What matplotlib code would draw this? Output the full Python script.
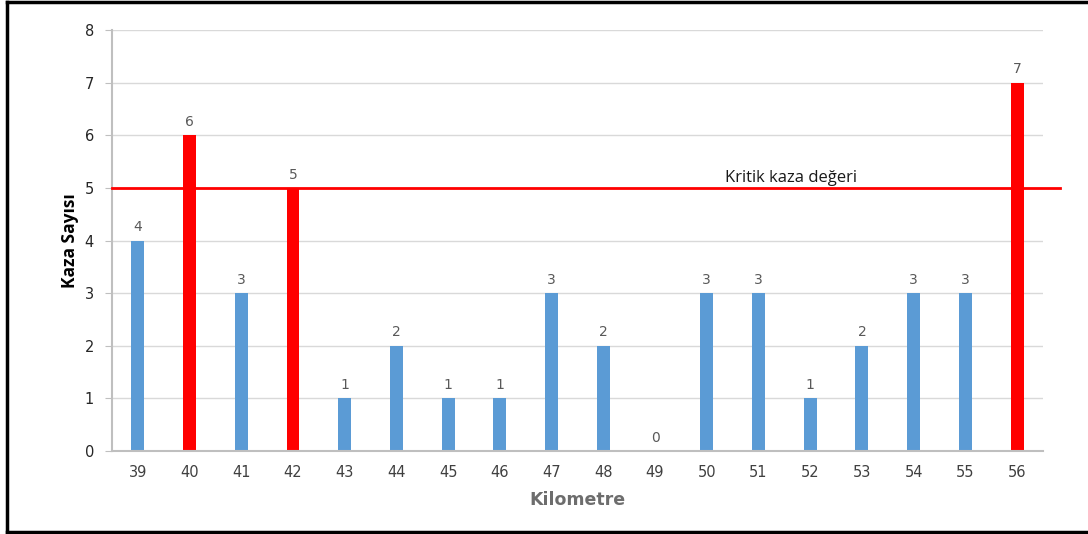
import matplotlib.pyplot as plt
from matplotlib.lines import Line2D

km = ['39', '40', '41', '42', '43', '44', '45', '46', '47', '48',
      '49', '50', '51', '52', '53', '54', '55', '56']
kaza = [4, 6, 3, 5, 1, 2, 1, 1, 3, 2, 0, 3, 3, 1, 2, 3, 3, 7]
kritik = 5

blue = '#5B9BD5'
red = '#FF0000'
colors = [red if v >= kritik else blue for v in kaza]

plt.rcParams['font.family'] = ['DejaVu Sans']

fig = plt.figure(figsize=(10.88, 5.34), dpi=100)
ax = fig.add_axes([0.1029, 0.1554, 0.8557, 0.7884])

x = range(len(km))
bars = ax.bar(x, kaza, width=0.25, color=colors, zorder=2)
for xi, v in zip(x, kaza):
    ax.text(xi, v + 0.12, str(v), ha='center', va='bottom', fontsize=10, color='#595959')

ax.set_xlim(-0.5, len(km) - 0.5)
ax.set_ylim(0, 8)
ax.set_yticks(range(0, 9))
ax.set_xticks(list(x))
ax.set_xticklabels(km)
ax.grid(axis='y', color='#d9d9d9', linewidth=1, zorder=0)
ax.tick_params(axis='y', length=5, color='#bfbfbf', labelsize=10.5, labelcolor='#262626', pad=8)
ax.tick_params(axis='x', length=0, labelsize=10.5, labelcolor='#404040', pad=10)
for s in ['top', 'right']:
    ax.spines[s].set_visible(False)
ax.spines['left'].set_color('#bfbfbf')
ax.spines['bottom'].set_color('#bfbfbf')
ax.spines['left'].set_linewidth(1.5)
ax.spines['bottom'].set_linewidth(1.5)

# critical line
ax.axhline(kritik, xmin=0, xmax=1.018, color=red, linewidth=2, clip_on=False, zorder=3)
ax.text(11.35, kritik + 0.03, 'Kritik kaza değeri', ha='left', va='bottom',
        fontsize=12, color='#1a1a1a', family=['Open Sans', 'DejaVu Sans'])

ax.set_xlabel('Kilometre', fontsize=12.5, fontweight='bold', color='#6d6d6d', labelpad=8)
ax.set_ylabel('Kaza Sayısı', fontsize=12.5, fontweight='bold', color='black', labelpad=4,
              family=['Open Sans', 'DejaVu Sans'])

# outer frame
fig.add_artist(Line2D([0.0066, 0.0066], [0.004, 0.996], color='black', linewidth=2.5))
fig.add_artist(Line2D([0.0066, 1.0], [0.996, 0.996], color='black', linewidth=2.5))
fig.add_artist(Line2D([0.0066, 1.0], [0.004, 0.004], color='black', linewidth=2.5))

fig.savefig('out.png', dpi=100)
